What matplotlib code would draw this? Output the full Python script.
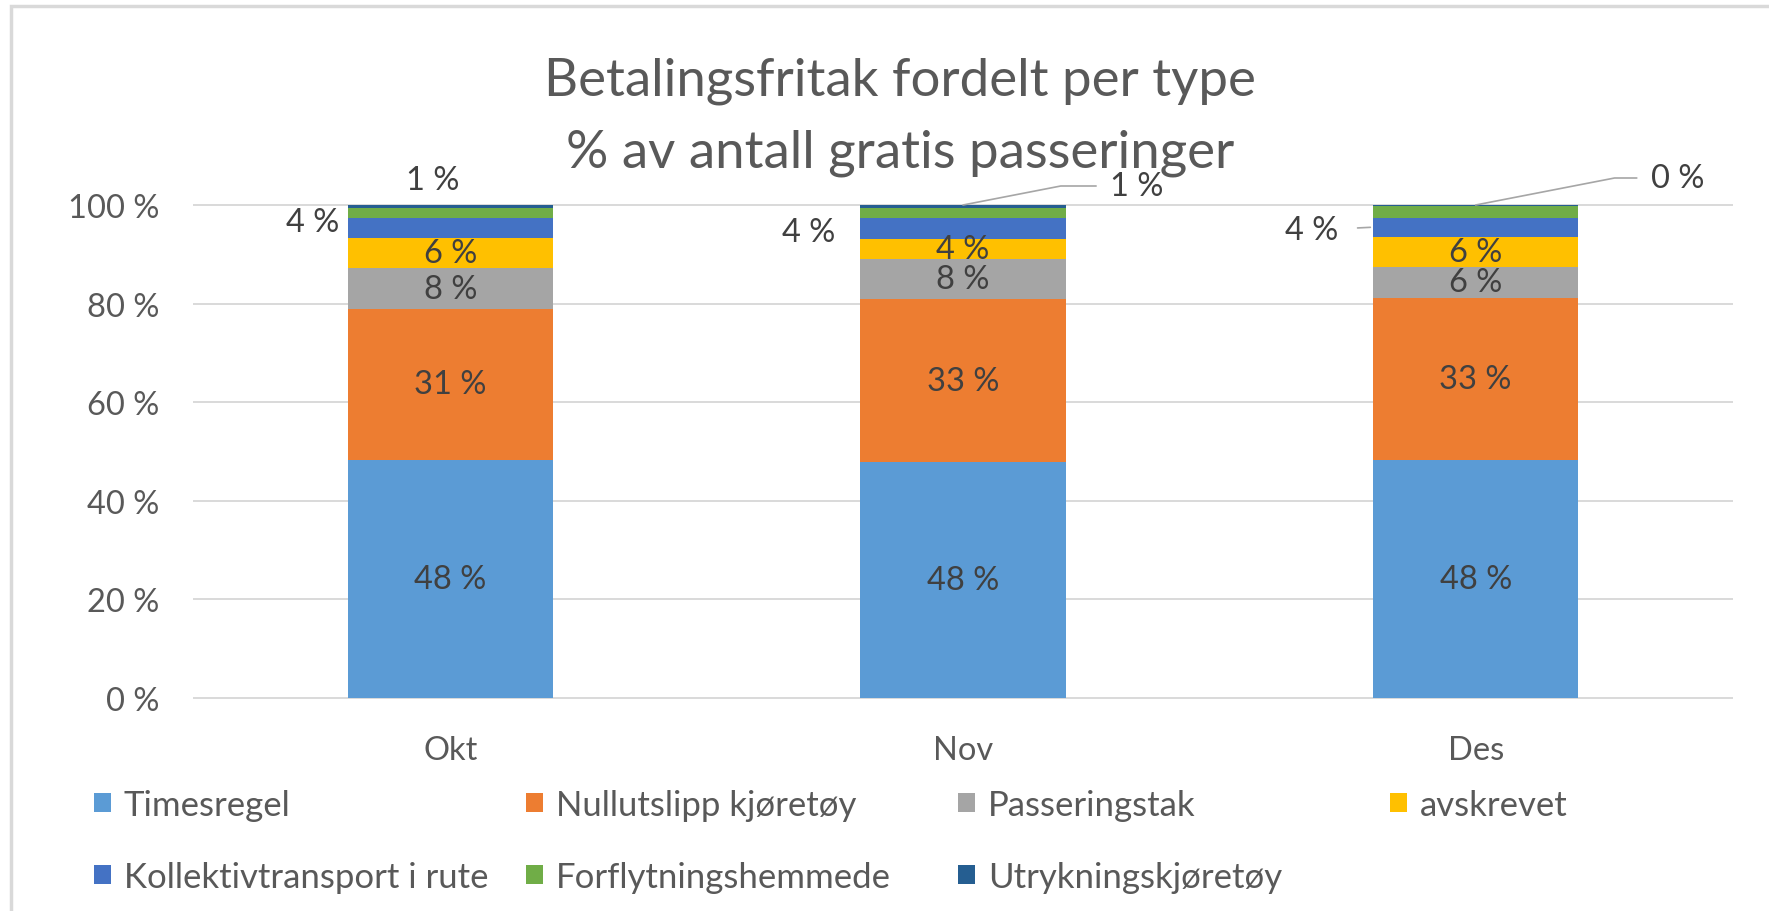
import numpy as np
import matplotlib.pyplot as plt
from matplotlib.patches import Rectangle

plt.rcParams['font.family'] = ['Lato', 'DejaVu Sans']

months = ['Okt', 'Nov', 'Des']
series_names = ['Timesregel', 'Nullutslipp kjøretøy', 'Passeringstak', 'avskrevet',
                'Kollektivtransport i rute', 'Forflytningshemmede', 'Utrykningskjøretøy']

timesregel = [48.3, 47.8, 48.3]
nullutslipp = [30.6, 33.1, 32.8]
passeringstak = [8.3, 8.2, 6.4]
avskrevet = [6.1, 4.1, 6.1]
kollektiv = [4.1, 4.1, 3.8]
forflytning = [2.0, 2.0, 2.3]
utrykning = [0.6, 0.7, 0.3]

yticks = [0, 20, 40, 60, 80, 100]

colors = ['#5B9BD5', '#ED7D31', '#A5A5A5', '#FFC000', '#4472C4', '#70AD47', '#255E91']
TXT = '#595959'
LBL = '#404040'
GRID = '#D9D9D9'
FS = 23.5
FS_LEG = 25
FS_TITLE = 38

W, H = 1769, 912
fig = plt.figure(figsize=(W / 100, H / 100), dpi=100)
ax = fig.add_axes([194 / W, 1 - 699 / H, (1732 - 194) / W, (699 - 206) / H])

x = np.arange(len(months))
data = [timesregel, nullutslipp, passeringstak, avskrevet, kollektiv, forflytning, utrykning]
bottom = np.zeros(len(months))
bars = []
for vals, name, col in zip(data, series_names, colors):
    b = ax.bar(x, vals, 0.4, bottom=bottom, color=col, label=name, zorder=2)
    bars.append(b)
    bottom += np.array(vals)

# labels centred in the big segments
for k in range(4):
    ax.bar_label(bars[k], fmt='{:.0f} %', label_type='center', fontsize=FS, color=LBL)

ax.set_xlim(-0.5, 2.5)
ax.set_ylim(0, 100)
for yv in yticks:
    ax.axhline(yv, color=GRID, lw=1.4, zorder=0, clip_on=False)
ax.set_yticks(yticks)
ax.set_yticklabels([f'{v} %' for v in yticks])
ax.set_xticks(x)
ax.set_xticklabels(months)
ax.tick_params(length=0, labelsize=FS, labelcolor=TXT)
ax.tick_params(axis='y', pad=25)
ax.tick_params(axis='x', pad=26.5)
for s in ax.spines.values():
    s.set_visible(False)

px = 72 / 100  # pixel -> points

# Kollektivtransport labels to the left of the bars
kol_bottom = np.array(timesregel) + np.array(nullutslipp) + np.array(passeringstak) + np.array(avskrevet)
kol_mid = kol_bottom + np.array(kollektiv) / 2
ax.annotate(f'{kollektiv[0]:.0f} %', (x[0] - 0.2, kol_mid[0]), xytext=(-9 * px, 6 * px),
            textcoords='offset points', ha='right', va='center', fontsize=FS, color=LBL)
ax.annotate(f'{kollektiv[1]:.0f} %', (x[1] - 0.2, kol_mid[1]), xytext=(-25 * px, -4 * px),
            textcoords='offset points', ha='right', va='center', fontsize=FS, color=LBL)
ax.annotate(f'{kollektiv[2]:.0f} %', (x[2] - 0.2, kol_mid[2]), xytext=(-35 * px, -3 * px),
            textcoords='offset points', ha='right', va='center', fontsize=FS, color=LBL,
            arrowprops=dict(arrowstyle='-', color='#A6A6A6', lw=1.2, shrinkA=12, shrinkB=2))

# Utrykning labels at the top
ax.annotate(f'{utrykning[0]:.0f} %', (x[0], 100), xytext=(-18 * px, 25 * px),
            textcoords='offset points', ha='center', va='center', fontsize=FS, color=LBL,
            annotation_clip=False)
for i, dx, dy in [(1, 147, 19), (2, 175, 27)]:
    ax.annotate(f'{utrykning[i]:.0f} %', (x[i], 100), xytext=(dx * px, dy * px),
                textcoords='offset points', ha='left', va='center', fontsize=FS, color=LBL,
                annotation_clip=False,
                arrowprops=dict(arrowstyle='-', color='#A6A6A6', lw=1.2, shrinkA=8, shrinkB=0,
                                connectionstyle='angle,angleA=0,angleB=11,rad=0'))

# title
fig.text(900 / W, 1 - 81 / H, 'Betalingsfritak fordelt per type', ha='center', va='center',
         fontsize=FS_TITLE, color=TXT)
fig.text(900 / W, 1 - 153 / H, '% av antall gratis passeringer', ha='center', va='center',
         fontsize=FS_TITLE, color=TXT)

# legend, four equal columns like Excel
handles, labels = ax.get_legend_handles_labels()
col_x = [94, 526, 958, 1390]
for c, cx in enumerate(col_x):
    idx = [c] + ([c + 4] if c + 4 < len(handles) else [])
    fig.legend([handles[i] for i in idx], [labels[i] for i in idx], loc='upper left',
               bbox_to_anchor=(cx / W, 1 - 790 / H), frameon=False, fontsize=FS_LEG,
               labelcolor=TXT, handlelength=0.49, handleheight=0.49, handletextpad=0.37,
               labelspacing=1.15, borderpad=0, borderaxespad=0)

# chart frame
fig.add_artist(Rectangle((11 / W, -0.1), 1.2, 1.1 - 7 / H, transform=fig.transFigure,
                         fill=False, edgecolor=GRID, lw=2.5))

fig.savefig('out.png', dpi=100)
